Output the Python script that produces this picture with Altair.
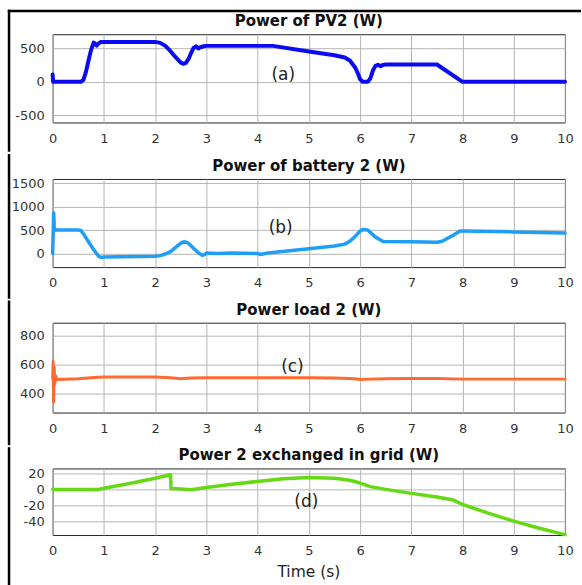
import altair as alt
import pandas as pd

# ---------------- data ----------------
X_TICKS = [0, 1, 2, 3, 4, 5, 6, 7, 8, 9, 10]

pv_t = [0, 0.01, 0.55, 0.6, 0.65, 0.7, 0.75, 0.8, 0.83, 0.86, 0.9, 0.95, 2.0, 2.1, 2.2, 2.3,
        2.4, 2.5, 2.55, 2.6, 2.65, 2.7, 2.75, 2.8, 2.84, 2.88, 2.95, 3.0, 4.3, 5.0, 5.5, 5.7,
        5.8, 5.9, 5.95, 6.0, 6.05, 6.15, 6.2, 6.25, 6.3, 6.35, 6.4, 6.45, 6.5, 7.5, 8.0, 10.0]
pv_v = [110, 0, 0, 30, 150, 320, 480, 590, 570, 545, 580, 600, 600, 585, 540, 460,
        370, 290, 270, 285, 340, 430, 510, 535, 500, 520, 535, 540, 540, 455, 400, 365,
        320, 220, 140, 40, 0, 0, 50, 170, 240, 255, 235, 255, 260, 260, 0, 0]

bat_t = [0, 0.02, 0.03, 0.04, 0.5, 0.55, 0.6, 0.7, 0.8, 0.9, 0.95, 1.0, 2.0, 2.1, 2.2, 2.3,
         2.4, 2.5, 2.57, 2.65, 2.75, 2.85, 2.92, 2.97, 3.0, 3.2, 3.5, 4.0, 4.05, 4.2, 5.0,
         5.5, 5.7, 5.8, 5.9, 6.0, 6.05, 6.15, 6.3, 6.45, 7.0, 7.5, 7.6, 7.8, 7.95, 8.0, 9.0, 10.0]
bat_v = [0, 870, 600, 500, 500, 490, 420, 250, 80, -60, -85, -75, -60, -45, -10, 40,
         130, 220, 255, 220, 110, 10, -40, -20, 10, 0, 10, 0, -20, 10, 100,
         160, 200, 260, 360, 480, 510, 500, 350, 255, 250, 240, 260, 380, 480, 480, 460, 440]

load_t = [0, 0.01, 0.02, 0.03, 0.04, 0.06, 0.08, 0.5, 0.8, 1.0, 2.0, 2.3, 2.5, 2.7, 3.0,
          4.0, 5.0, 5.5, 5.9, 6.0, 6.2, 6.5, 7.0, 7.5, 8.0, 10.0]
load_v = [500, 620, 340, 580, 460, 520, 495, 500, 510, 512, 512, 508, 500, 505, 508,
          508, 508, 505, 500, 495, 498, 500, 503, 503, 498, 498]

grid_t = [0, 0.9, 1.0, 1.5, 2.0, 2.3, 2.31, 2.5, 2.7, 3.0, 3.5, 4.0, 4.5, 5.0, 5.5, 5.8,
          6.0, 6.2, 6.5, 7.0, 7.5, 7.8, 8.0, 8.5, 9.0, 9.5, 10.0]
grid_v = [0, 0, 1.5, 7.5, 14, 18.5, 1, 0.5, -0.5, 2.5, 6.5, 10, 13.5, 15, 14, 11.5,
          8, 3.5, 0, -5, -9.5, -13, -19, -30, -40, -49, -57]

titles = ["Power of PV2 (W)", "Power of battery 2 (W)", "Power load 2 (W)",
          "Power 2 exchanged in grid (W)"]
ann_text = ["(a)", "(b)", "(c)", "(d)"]
ann_t = [4.5, 4.45, 4.68, 4.95]
ann_v = [100, 550, 583, -15.5]
y_domains = [[-610, 715], [-290, 1590], [267, 888], [-57.5, 26.4]]
y_ticks = [[-500, 0, 500], [0, 500, 1000, 1500], [400, 600, 800], [-40, -20, 0, 20]]
colors = ["#0a0af5", "#1e9ef5", "#ff6a30", "#66d814"]
widths = [4, 3.5, 3, 3.5]
series = [(pv_t, pv_v), (bat_t, bat_v), (load_t, load_v), (grid_t, grid_v)]

# ---------------- layout (pixels) ----------------
W = 513.3
tops = [32.3, 175.0, 317.3, 461.3]      # layout tops (compensated)
heights = [88.4, 88.3, 90.0, 66.7]
bounds = [9.0, 150.0, 295.0, 440.0, 585.0]
LEFT_X = 8.0
PLOT_LEFT = 51.7
BW = 2.5
half = BW / 2

one = pd.DataFrame({"k": [0]})


def panel(i):
    t, v = series[i]
    top, h = tops[i], heights[i]
    df = pd.DataFrame({"t": t, "v": v})
    x = alt.X("t:Q", scale=alt.Scale(domain=[0, 10], nice=False, zero=False),
              axis=alt.Axis(values=X_TICKS, title=None, grid=True, ticks=False, domain=False,
                            labelPadding=9.7, labelExpr="toString(datum.value)",
                            labelFlush=False, labelOverlap=False))
    y = alt.Y("v:Q", scale=alt.Scale(domain=y_domains[i], nice=False, zero=False),
              axis=alt.Axis(values=y_ticks[i], title=None, grid=True, ticks=False, domain=False,
                            labelPadding=8.4, labelExpr="toString(datum.value)",
                            labelFlush=False, labelOverlap=False))
    line = alt.Chart(df).mark_line(color=colors[i], strokeWidth=widths[i],
                                   strokeJoin="round", strokeCap="round").encode(x=x, y=y)
    adf = pd.DataFrame({"t": [ann_t[i]], "v": [ann_v[i]], "lab": [ann_text[i]]})
    ann = alt.Chart(adf).mark_text(font="DejaVu Sans", fontSize=17, color="#222222").encode(
        x=x, y=y, text="lab:N")
    ttl = alt.Chart(one).mark_text(text=titles[i], font="DejaVu Sans", fontSize=15,
                                   fontWeight="bold", color="#111111", align="center",
                                   baseline="alphabetic").encode(
        x=alt.value(W / 2), y=alt.value(-8))
    seg_top = bounds[i] - top
    seg_bot = bounds[i + 1] - top
    y1 = seg_top - half if i == 0 else seg_top
    bx = LEFT_X - PLOT_LEFT
    border = alt.Chart(one).mark_rect(color="#000000").encode(
        x=alt.value(bx - half), x2=alt.value(bx + half), y=alt.value(y1), y2=alt.value(seg_bot))
    layers = [line, ann, ttl, border]
    if i == 0:
        topb = alt.Chart(one).mark_rect(color="#000000").encode(
            x=alt.value(bx - half), x2=alt.value(582 - PLOT_LEFT - 1),
            y=alt.value(seg_top - half), y2=alt.value(seg_top + half))
        layers.append(topb)
    if i == 3:
        xt = alt.Chart(one).mark_text(text="Time (s)", font="DejaVu Sans", fontSize=15.5,
                                      color="#222222", align="center",
                                      baseline="alphabetic").encode(
            x=alt.value(W / 2), y=alt.value(108.4))
        layers.append(xt)
    return alt.layer(*layers).properties(width=W, height=h)


chart = alt.vconcat(*[panel(i) for i in range(4)], spacing=0).properties(
    padding={"left": LEFT_X - half, "top": bounds[0] - half, "right": 0, "bottom": 0},
    background="white",
).configure_view(stroke="#262626", strokeWidth=1).configure_axis(
    labelFont="DejaVu Sans", labelFontSize=13, labelColor="#333333", labelOverlap=False,
    gridColor="#b5b5b5", gridWidth=1, gridOpacity=1,
)

chart.save("out.html", embed_options={"renderer": "svg", "actions": False})
